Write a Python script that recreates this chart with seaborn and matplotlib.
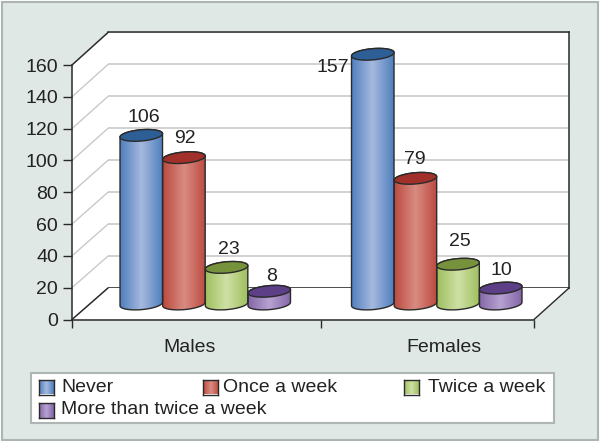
import numpy as np
import pandas as pd
import matplotlib
matplotlib.use("Agg")
import matplotlib.pyplot as plt
import seaborn as sns
from matplotlib.colors import LinearSegmentedColormap
from matplotlib.lines import Line2D
from matplotlib.patches import Polygon, Rectangle
from matplotlib.transforms import IdentityTransform

groups = ["Males", "Females"]
frequencies = ["Never", "Once a week", "Twice a week", "More than twice a week"]
males = [106, 92, 23, 8]
females = [157, 79, 25, 10]
y_ticks = [0, 20, 40, 60, 80, 100, 120, 140, 160]

side_colors = ["#4f7fbe", "#bb4a40", "#9fbf5e", "#8466a8"]
light_colors = ["#a6b9de", "#d98c82", "#cfe0a6", "#b7a3d1"]
top_colors = ["#2d5e95", "#a03029", "#76923c", "#5c3f87"]

# label offsets from the bar top, in pixels
label_dx = [3, 1, 2, 2, -40, -1, 2, 1]
label_dy = [18, 19, 18, 15, -13, 19, 23, 18]

W, H = 600, 441
DARK = "#2a2a2a"
TEXT = "#222222"
FS = 14


def px_box(left, right, top, bottom):
    return [left / W, 1 - bottom / H, (right - left) / W, (bottom - top) / H]


def ellipse_pts(xc, yc, a, b, t, tilt=np.radians(5)):
    x = xc + a * np.cos(t) * np.cos(tilt) - b * np.sin(t) * np.sin(tilt)
    y = yc + a * np.cos(t) * np.sin(tilt) + b * np.sin(t) * np.cos(tilt)
    return np.column_stack([x, y])


df = pd.DataFrame({
    "group": np.repeat(groups, len(frequencies)),
    "frequency": frequencies * len(groups),
    "count": males + females,
})

sns.set_theme(style="white")
plt.rcParams["font.family"] = ["Liberation Sans", "DejaVu Sans"]
plt.rcParams["font.size"] = FS

fig = plt.figure(figsize=(W / 100, H / 100), dpi=100, facecolor="white")
fig.add_artist(Rectangle((1.5, 1.5), 596, 438, transform=IdentityTransform(),
                         facecolor="#dfe8e4", edgecolor="#adb5b1", linewidth=1.5, zorder=-5))

# back wall
back = fig.add_axes(px_box(108, 569, 32.5, 288), zorder=0, facecolor="white")
back.set_xlim(0, 1)
back.set_ylim(0, 160)
back.set_yticks(y_ticks)
back.set_xticks([])
back.tick_params(left=False, labelleft=False)
back.grid(axis="y", color="#c9c9c9", linewidth=1.2)
back.set_axisbelow(True)
for side in ["top", "right", "bottom"]:
    back.spines[side].set_color(DARK)
    back.spines[side].set_linewidth(1.1)
back.spines["left"].set_visible(False)

# front plane with the axes
front = fig.add_axes(px_box(72, 534, 65, 319.5), zorder=2)
front.patch.set_alpha(0)
front.set_xlim(-0.5, 1.5)
front.set_ylim(0, 160)
front.set_yticks(y_ticks)
front.set_yticklabels([str(v) for v in y_ticks], color=TEXT, fontsize=FS)
front.set_xticks([-0.5, 0.578, 1.5])
front.set_xticklabels([])
front.set_xticks([0.011, 1.11], minor=True)
front.set_xticklabels(groups, minor=True, color=TEXT, fontsize=FS)
front.tick_params(axis="y", length=6.5, width=1, color=DARK, pad=3.5, left=True)
front.tick_params(axis="x", which="major", length=6, width=1, color=DARK, bottom=True)
front.tick_params(axis="x", which="minor", length=0, pad=14, bottom=False)
sns.despine(ax=front)
for side in ["left", "bottom"]:
    front.spines[side].set_color(DARK)
    front.spines[side].set_linewidth(1.1)

# side wall, floor and the lines joining front to back
f = front.transData
b = back.transData
fl0, fb0 = f.transform((-0.5, 0))
fr0, _ = f.transform((1.5, 0))
bl0, bb0 = b.transform((0, 0))
br0, _ = b.transform((1, 0))
_, ft = f.transform((0, 160))
_, bt = b.transform((0, 160))
fig.add_artist(Polygon([(fl0, fb0), (fl0, ft), (bl0, bt), (bl0, bb0)], closed=True,
                       transform=IdentityTransform(), facecolor="white", edgecolor="none", zorder=0.2))
fig.add_artist(Polygon([(fl0, fb0), (bl0, bb0), (br0, bb0), (fr0, fb0)], closed=True,
                       transform=IdentityTransform(), facecolor="white", edgecolor="none", zorder=0.2))
for v in y_ticks:
    _, y0 = f.transform((0, v))
    _, y1 = b.transform((0, v))
    end = v in (0, 160)
    fig.add_artist(Line2D([fl0, bl0], [y0, y1], transform=IdentityTransform(),
                          color=DARK if end else "#c9c9c9",
                          linewidth=1.1 if end else 1.0, zorder=0.5))
fig.add_artist(Line2D([fr0, br0], [fb0, bb0], transform=IdentityTransform(),
                      color=DARK, linewidth=1.0, zorder=0.5))

# bars sit half way into the floor
bar_ax = fig.add_axes(px_box(89.5, 552.5, 49.5, 304), zorder=3)
sns.barplot(data=df, x="group", y="count", hue="frequency", hue_order=frequencies,
            order=groups, palette=side_colors, width=0.737, gap=0, linewidth=0,
            legend=False, ax=bar_ax)
bar_ax.set_xlim(-0.5, 1.5)
bar_ax.set_ylim(0, 160)
bar_ax.set_axis_off()

to_px = bar_ax.transData
half_depth = 5.6
for i, container in enumerate(bar_ax.containers):
    cmap = LinearSegmentedColormap.from_list(
        "cyl", [side_colors[i], light_colors[i], side_colors[i]])
    for j, bar in enumerate(container):
        x0 = bar.get_x()
        x1 = x0 + bar.get_width()
        val = bar.get_height()
        (px0, py0), (px1, py1) = to_px.transform([(x0, 0), (x1, val)])
        xc = (px0 + px1) / 2
        a = (px1 - px0) / 2

        lower = ellipse_pts(xc, py0, a, half_depth, np.linspace(np.pi, 2 * np.pi, 60))
        upper = ellipse_pts(xc, py1, a, half_depth, np.linspace(0, np.pi, 60))
        body = Polygon(np.vstack([lower, upper]), closed=True, transform=IdentityTransform(),
                       facecolor="none", edgecolor=DARK, linewidth=1.0, zorder=5, clip_on=False)
        bar_ax.add_patch(body)
        bar.set_clip_path(body)

        shade = bar_ax.imshow(np.linspace(0, 1, 128)[None, :], cmap=cmap, aspect="auto",
                              extent=(x0, x1, -15, val + 15), interpolation="bilinear", zorder=4)
        shade.set_clip_box(fig.bbox)
        shade.set_clip_path(body)

        lid = Polygon(ellipse_pts(xc, py1, a, half_depth, np.linspace(0, 2 * np.pi, 120)),
                      closed=True, transform=IdentityTransform(), facecolor=top_colors[i],
                      edgecolor=DARK, linewidth=1.0, zorder=6, clip_on=False)
        bar_ax.add_patch(lid)

        k = j * len(frequencies) + i
        bar_ax.annotate(str(int(val)), (x0 + bar.get_width() / 2, val),
                        xytext=(label_dx[k], label_dy[k]), textcoords="offset pixels",
                        ha="center", va="center", color=TEXT, fontsize=FS,
                        annotation_clip=False, zorder=7)

# legend box, the columns are not even so it is laid out by hand
fig.add_artist(Rectangle((30.5, H - 423), 523.5, 50, transform=IdentityTransform(),
                         facecolor="white", edgecolor="#aeb5b2", linewidth=1.5, zorder=4))
swatch_x = [39, 202.5, 403.5, 39]
text_x = [61, 223, 428, 61]
row_y = [387, 387, 387, 410]
for i, name in enumerate(frequencies):
    cmap = LinearSegmentedColormap.from_list(
        "swatch", [side_colors[i], light_colors[i], side_colors[i]])
    sw = fig.add_axes(px_box(swatch_x[i], swatch_x[i] + 15, row_y[i] - 7.5, row_y[i] + 7.5), zorder=5)
    sw.imshow(np.linspace(0, 1, 32)[None, :], cmap=cmap, aspect="auto", interpolation="bilinear")
    sw.set_xticks([])
    sw.set_yticks([])
    for s in sw.spines.values():
        s.set_color(DARK)
        s.set_linewidth(1.0)
    fig.text(text_x[i] / W, 1 - row_y[i] / H, name, ha="left", va="center",
             color=TEXT, fontsize=FS, zorder=6)

fig.savefig("out.png", dpi=100, facecolor=fig.get_facecolor())
